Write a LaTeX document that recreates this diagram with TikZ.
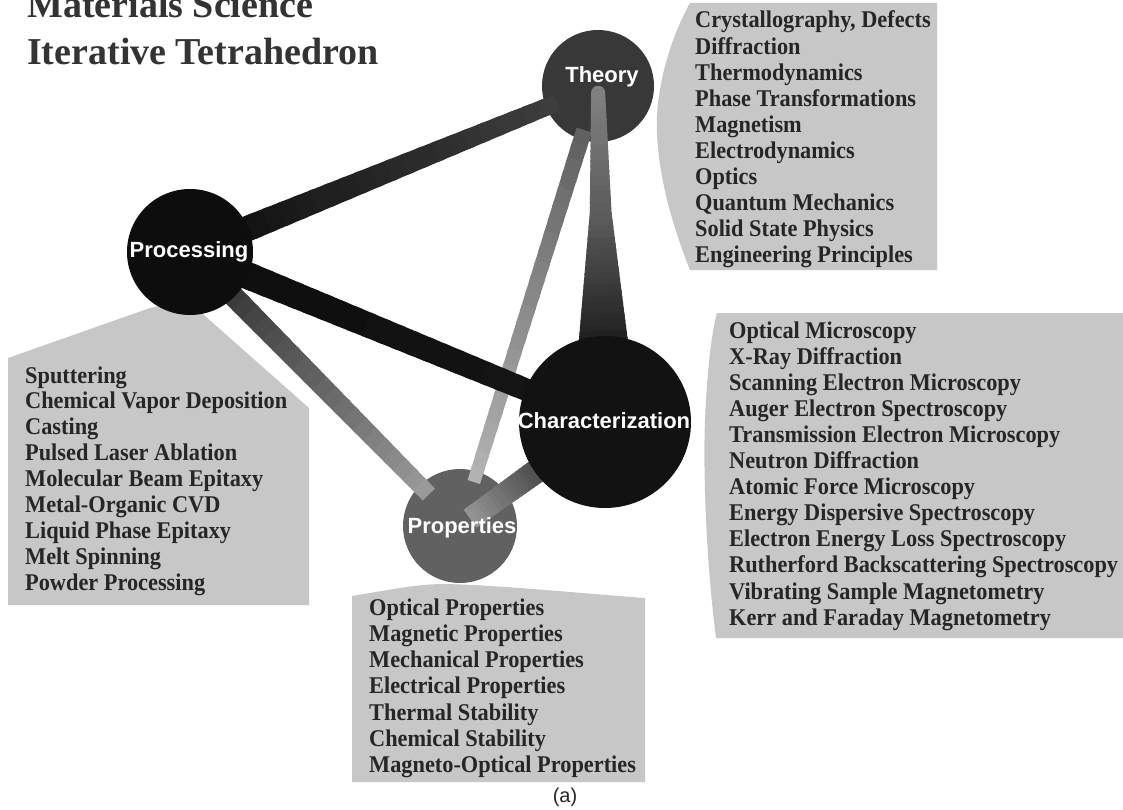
\documentclass[tikz,border=0pt]{standalone}
\usepackage{fontspec}
\usetikzlibrary{calc}
\setmainfont{Liberation Serif}
\newfontfamily\listfont{Liberation Serif}[FakeStretch=0.93]
\newfontfamily\titlefont{Liberation Serif}
\newfontfamily\labelfont{Liberation Sans}

% tapered bar with a grey gradient between two nodes
% #1 from, #2 to, #3/#4 start/end fraction, #5/#6 start/end width (pt), #7/#8 start/end percent black
\newcommand\gradbar[8]{%
  \foreach \k in {0,...,23}{%
    \pgfmathsetmacro\sa{#3+(#4-#3)*\k/24}%
    \pgfmathsetmacro\sb{#3+(#4-#3)*min(\k+1.4,24)/24}%
    \pgfmathsetmacro\wa{(#5+(#6-#5)*\k/24)/2}%
    \pgfmathsetmacro\wb{(#5+(#6-#5)*min(\k+1.4,24)/24)/2}%
    \pgfmathtruncatemacro\pc{round(#7+(#8-#7)*\k/23)}%
    \coordinate (ga) at ($(#1)!\sa!(#2)$);
    \coordinate (gb) at ($(#1)!\sb!(#2)$);
    \fill[black!\pc] ($(ga)!\wa pt!90:(#2)$) -- ($(gb)!\wb pt!90:(#2)$)
      -- ($(gb)!\wb pt!-90:(#2)$) -- ($(ga)!\wa pt!-90:(#2)$) -- cycle;
  }}

\tikzset{
  panel/.style={fill=black!22},
  ball/.style={circle, inner sep=0pt, draw=none},
  balltext/.style={font=\labelfont\bfseries\fontsize{22}{24}\selectfont, text=white, anchor=base, inner sep=0pt},
  listtext/.style={font=\listfont\bfseries\fontsize{24}{26}\selectfont, text=black!85, anchor=base west, inner sep=0pt},
  titletext/.style={font=\titlefont\bfseries\fontsize{38}{47}\selectfont, text=black!80, anchor=base west, inner sep=0pt},
}

\begin{document}
\begin{tikzpicture}[x=1pt, y=-1pt]
\useasboundingbox (0,0) rectangle (1123,810);
\fill[white] (0,0) rectangle (1123,810);

% grey panels behind the lists
\fill[panel] (690,3) -- (937,3) -- (937,270) -- (690,270)
  .. controls (668,215) and (655,160) .. (657,115)
  .. controls (660,70) and (675,30) .. (690,3) -- cycle;
\fill[panel] (717,313) -- (1123,313) -- (1123,638) -- (716,638)
  .. controls (706,560) and (703,470) .. (705,420)
  .. controls (707,370) and (712,330) .. (717,313) -- cycle;
\fill[panel] (8,605) -- (8,358) -- (150,308) -- (187,300) -- (309,408) -- (309,605) -- cycle;
\fill[panel] (352,782) -- (352,596) .. controls (400,588) and (420,584) .. (445,584)
  .. controls (500,585) and (600,595) .. (645,598) -- (645,782) -- cycle;

% vertices lying behind the edges
\node[ball, fill=black!62, minimum size=114pt] (props) at (460,526) {};
\node[ball, fill=black!78, minimum size=112pt] (theory) at (598,86) {};
% positions of the two front vertices
\coordinate (procc) at (190,252);
\coordinate (charc) at (605,422);

% edges of the tetrahedron
\gradbar{theory}{props}{0.10}{0.90}{16}{13}{62}{30}
\gradbar{procc}{props}{0.0}{0.885}{22}{17}{85}{40}
\gradbar{charc}{props}{0.30}{0.93}{25}{22}{80}{42}
\gradbar{theory}{charc}{0.38}{0.80}{22}{52}{64}{90}
\gradbar{theory}{charc}{0.02}{0.39}{14}{22}{50}{64}
\fill[black!50] ($(theory)!0.02!(charc)$) circle (7pt);
\gradbar{procc}{theory}{0.0}{0.90}{27}{17}{95}{76}
\gradbar{procc}{charc}{0.0}{0.85}{28}{22}{95}{92}

% vertices in front
\node[ball, fill=black!95, minimum size=126pt] (proc) at (procc) {};
\node[ball, fill=black!93, minimum size=172pt] (char) at (charc) {};

% vertex labels
\node[balltext] (ltheory) at (602,83) {Theory};
\node[balltext] (lproc) at (189,258) {Processing};
\node[balltext] (lchar) at (604,428) {Characterization};
\node[balltext] (lprops) at (462,533) {Properties};

% title
\node[titletext] (title1) at (27,18) {Materials Science};
\node[titletext] (title2) at (27,65) {Iterative Tetrahedron};

% lists
\foreach \t [count=\n from 0] in {{Crystallography, Defects}, Diffraction, Thermodynamics,
  Phase Transformations, Magnetism, Electrodynamics, Optics, Quantum Mechanics,
  Solid State Physics, Engineering Principles}
  \node[listtext] (th\n) at (695,{28+\n*26.1}) {\t};
\foreach \t [count=\n from 0] in {Sputtering, Chemical Vapor Deposition, Casting,
  Pulsed Laser Ablation, Molecular Beam Epitaxy, Metal-Organic CVD,
  Liquid Phase Epitaxy, Melt Spinning, Powder Processing}
  \node[listtext] (pr\n) at (25,{383+\n*25.9}) {\t};
\foreach \t [count=\n from 0] in {Optical Microscopy, X-Ray Diffraction,
  Scanning Electron Microscopy, Auger Electron Spectroscopy,
  Transmission Electron Microscopy, Neutron Diffraction, Atomic Force Microscopy,
  Energy Dispersive Spectroscopy, Electron Energy Loss Spectroscopy,
  Rutherford Backscattering Spectroscopy, Vibrating Sample Magnetometry,
  Kerr and Faraday Magnetometry}
  \node[listtext] (ch\n) at (729,{338+\n*26.1}) {\t};
\foreach \t [count=\n from 0] in {Optical Properties, Magnetic Properties,
  Mechanical Properties, Electrical Properties, Thermal Stability,
  Chemical Stability, Magneto-Optical Properties}
  \node[listtext] (pp\n) at (369,{615+\n*26.3}) {\t};

% caption
\node[font=\labelfont\fontsize{20}{22}\selectfont, text=black!85, inner sep=0pt] (cap) at (565,797) {(a)};
\end{tikzpicture}
\end{document}
